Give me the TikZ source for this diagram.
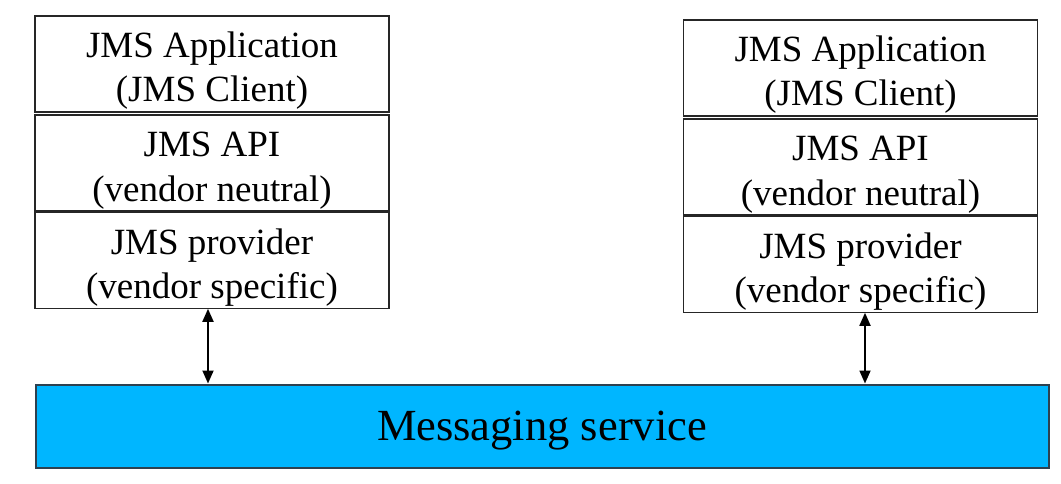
\documentclass[tikz,border=0pt]{standalone}
\usepackage{fontspec}
\setmainfont{Liberation Serif}
\usetikzlibrary{positioning,arrows.meta}

\definecolor{busblue}{RGB}{0,182,255}
\definecolor{busedge}{RGB}{45,65,80}

\begin{document}
\begin{tikzpicture}[x=1pt, y=-1pt,
    every node/.style = {inner sep=0pt, align=center},
    layerbox/.style = {draw=black!85, line width=1.2pt, fill=white,
        minimum width=354pt, minimum height=96pt,
        text height=76pt, text depth=0pt,
        font=\fontsize{37}{44}\selectfont},
    busbox/.style = {draw=busedge, line width=2pt, fill=busblue,
        minimum width=1013pt, minimum height=83pt, text depth=0pt,
        font=\fontsize{44.5}{52}\selectfont},
    link/.style = {line width=1.8pt, {Triangle[length=13pt,width=11pt]}-{Triangle[length=13pt,width=11pt]}}]
    \useasboundingbox (0,0) rectangle (1061,484);
    \node[layerbox] (appL) at (212,64) {JMS Application\\(JMS Client)};
    \node[layerbox] (apiL) [below = 1.8pt of appL] {JMS API\\(vendor neutral)};
    \node[layerbox] (provL) [below = 0pt of apiL] {JMS provider\\(vendor specific)};
    \node[layerbox] (appR) at (860.5,68) {JMS Application\\(JMS Client)};
    \node[layerbox] (apiR) [below = 1.8pt of appR] {JMS API\\(vendor neutral)};
    \node[layerbox] (provR) [below = 0pt of apiR] {JMS provider\\(vendor specific)};
    \node[busbox] (bus) at (542,426) {Messaging service};
    \coordinate (linkL) at (208,0);
    \coordinate (linkR) at (865,0);
    \draw[link] (provL.south -| linkL) -- (bus.north -| linkL);
    \draw[link] (provR.south -| linkR) -- (bus.north -| linkR);
\end{tikzpicture}
\end{document}
